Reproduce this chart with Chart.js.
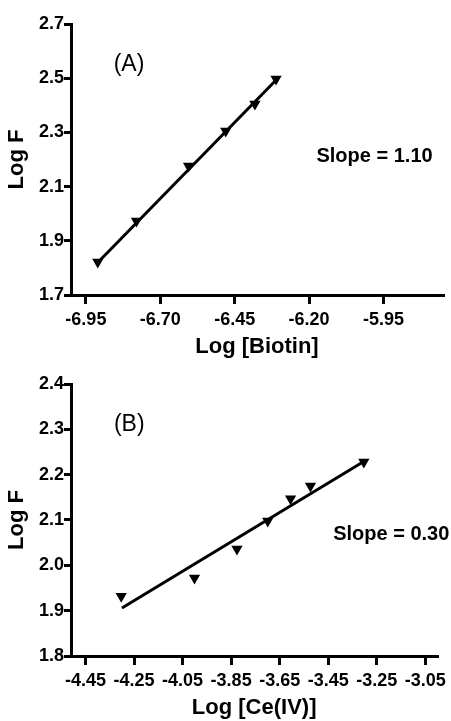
<!DOCTYPE html>
<html>
<head>
<meta charset="utf-8">
<script src="https://cdn.jsdelivr.net/npm/chart.js@4"></script>
<style>
  body { margin: 0; background: #fff; }
  canvas { display: block; }
</style>
</head>
<body>
<canvas id="chartA" width="451" height="360"></canvas>
<canvas id="chartB" width="451" height="361"></canvas>
<script>
'use strict';

/*********** DATA ***********/
// panel A: Log F vs Log [Biotin]
var biotinX = [-6.91, -6.78, -6.605, -6.48, -6.382, -6.311];
var biotinY = [1.822, 1.973, 2.176, 2.305, 2.405, 2.497];
var biotinFitX = [-6.91, -6.305];
var biotinFitY = [1.82, 2.50];
var biotinTicksX = [-6.95, -6.70, -6.45, -6.20, -5.95];
var biotinTicksY = [1.7, 1.9, 2.1, 2.3, 2.5, 2.7];

// panel B: Log F vs Log [Ce(IV)]
var ceX = [-4.303, -4.001, -3.826, -3.699, -3.605, -3.523, -3.303];
var ceY = [1.932, 1.972, 2.036, 2.098, 2.147, 2.175, 2.228];
var ceFitX = [-4.30, -3.30];
var ceFitY = [1.906, 2.230];
var ceTicksX = [-4.45, -4.25, -4.05, -3.85, -3.65, -3.45, -3.25, -3.05];
var ceTicksY = [1.8, 1.9, 2.0, 2.1, 2.2, 2.3, 2.4];

var FONT = "'Liberation Sans', Arial, sans-serif";

/*********** FUNCTIONS ***********/
function toPoints(xs, ys) {
  var pts = [];
  for (var i = 0; i < xs.length; i++) {
    pts.push({x: xs[i], y: ys[i]});
  }
  return pts;
}

// draws the panel letter and slope text at data coordinates
var panelText = {
  id: 'panelText',
  afterDatasetsDraw: function(chart, args, opts) {
    var ctx = chart.ctx;
    var xs = chart.scales.x;
    var ys = chart.scales.y;
    opts.items.forEach(function(t) {
      ctx.save();
      ctx.font = t.font;
      ctx.fillStyle = '#000';
      ctx.textAlign = 'center';
      ctx.textBaseline = 'middle';
      ctx.fillText(t.text, xs.getPixelForValue(t.x), ys.getPixelForValue(t.y));
      ctx.restore();
    });
  }
};

function axisGrid() {
  return {
    display: true,
    drawOnChartArea: false,
    drawTicks: true,
    lineWidth: 3,
    color: '#000',
    tickColor: '#000'
  };
}

function drawPanel(id, opt) {
  var ctx = document.getElementById(id).getContext('2d');
  new Chart(ctx, {
    type: 'scatter',
    data: {
      datasets: [{
        data: toPoints(opt.fitX, opt.fitY),
        showLine: true,
        borderColor: '#000',
        borderWidth: 3,
        pointRadius: 0
      }, {
        data: toPoints(opt.x, opt.y),
        showLine: false,
        pointStyle: 'triangle',
        rotation: 180,
        pointRadius: 6.5,
        backgroundColor: '#000',
        borderColor: '#000',
        borderWidth: 0
      }]
    },
    options: {
      responsive: false,
      animation: false,
      layout: {padding: {top: 24, right: 8, left: 0, bottom: 0}},
      plugins: {
        legend: {display: false},
        tooltip: {enabled: false},
        panelText: {items: opt.texts}
      },
      scales: {
        x: {
          type: 'linear',
          min: opt.xMin,
          max: opt.xMax,
          afterBuildTicks: function(axis) {
            axis.ticks = opt.ticksX.map(function(v) { return {value: v}; });
          },
          afterFit: function(scale) { scale.height = 65; },
          grid: Object.assign(axisGrid(), {tickLength: 9}),
          border: {display: true, width: 3, color: '#000'},
          ticks: {
            autoSkip: false,
            maxRotation: 0,
            padding: 5,
            color: '#000',
            font: {family: FONT, size: 18, weight: 'bold'},
            callback: function(v) { return v.toFixed(2); }
          },
          title: {
            display: true,
            text: opt.xTitle,
            color: '#000',
            padding: {top: 2, bottom: 2},
            font: {family: FONT, size: 22, weight: 'bold', lineHeight: 1}
          }
        },
        y: {
          type: 'linear',
          min: opt.yMin,
          max: opt.yMax,
          afterBuildTicks: function(axis) {
            axis.ticks = opt.ticksY.map(function(v) { return {value: v}; });
          },
          afterFit: function(scale) { scale.width = 71; },
          grid: Object.assign(axisGrid(), {tickLength: 7}),
          border: {display: true, width: 3, color: '#000'},
          ticks: {
            padding: 0,
            color: '#000',
            font: {family: FONT, size: 18, weight: 'bold'},
            callback: function(v) { return v.toFixed(1); }
          },
          title: {
            display: true,
            text: 'Log F',
            color: '#000',
            padding: {top: 6, bottom: 0},
            font: {family: FONT, size: 22, weight: 'bold', lineHeight: 1}
          }
        }
      }
    },
    plugins: [panelText]
  });
}

/*********** SETUP ***********/
drawPanel('chartA', {
  x: biotinX, y: biotinY, fitX: biotinFitX, fitY: biotinFitY,
  xMin: -7.0, xMax: -5.75, yMin: 1.7, yMax: 2.7,
  ticksX: biotinTicksX, ticksY: biotinTicksY,
  xTitle: 'Log [Biotin]',
  texts: [
    {text: '(A)', x: -6.805, y: 2.55, font: '23px ' + FONT},
    {text: 'Slope = 1.10', x: -5.98, y: 2.21, font: 'bold 20px ' + FONT}
  ]
});

drawPanel('chartB', {
  x: ceX, y: ceY, fitX: ceFitX, fitY: ceFitY,
  xMin: -4.51, xMax: -3.0, yMin: 1.8, yMax: 2.4,
  ticksX: ceTicksX, ticksY: ceTicksY,
  xTitle: 'Log [Ce(IV)]',
  texts: [
    {text: '(B)', x: -4.27, y: 2.31, font: '23px ' + FONT},
    {text: 'Slope = 0.30', x: -3.19, y: 2.067, font: 'bold 20px ' + FONT}
  ]
});
</script>
</body>
</html>
